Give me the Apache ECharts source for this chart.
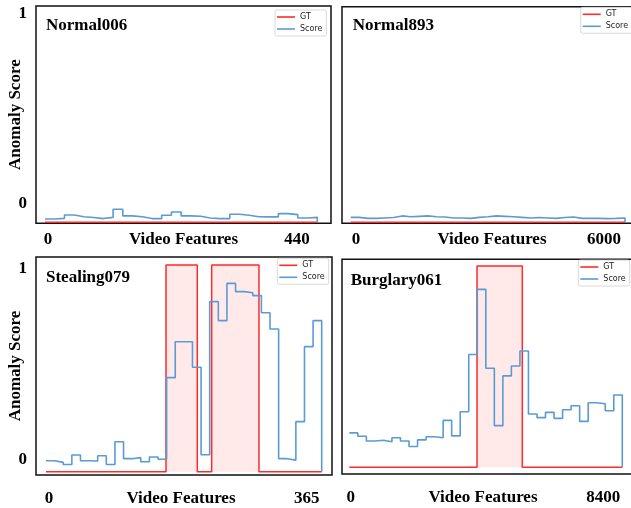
<!DOCTYPE html>
<html>
<head>
<meta charset="utf-8">
<script src="https://cdn.jsdelivr.net/npm/echarts@6/dist/echarts.min.js"></script>
<style>
html,body{margin:0;padding:0;background:#fff;}
#c{width:631px;height:508px;}
</style>
</head>
<body>
<div id="c"></div>
<script>
// ---------------- data ----------------
const titles = ['Normal006', 'Normal893', 'Stealing079', 'Burglary061'];
const seriesNames = ['GT', 'Score'];
const yTicks = [0, 1];

const normal006Ticks = [0, 440];
const normal893Ticks = [0, 6000];
const stealing079Ticks = [0, 365];
const burglary061Ticks = [0, 8400];

// score per snippet segment
const normal006Score = [0.016,0.019,0.035,0.027,0.023,0.018,0.024,0.063,0.031,0.027,0.018,0.018,0.034,0.050,
  0.031,0.029,0.021,0.018,0.018,0.039,0.034,0.027,0.026,0.026,0.042,0.037,0.021,0.024];
const normal893Score = [0.024,0.019,0.019,0.021,0.023,0.031,0.027,0.029,0.031,0.027,0.026,0.021,0.021,0.019,
  0.024,0.027,0.031,0.029,0.027,0.024,0.021,0.023,0.021,0.019,0.023,0.026,0.019,0.019,0.019,0.018,0.019,0.021];
const stealing079Score = [0.053,0.045,0.035,0.081,0.053,0.052,0.077,0.035,0.145,0.063,0.068,0.048,0.071,0.060,
  0.455,0.629,0.629,0.505,0.082,0.823,0.731,0.911,0.871,0.866,0.852,0.769,0.690,0.063,0.056,0.242,0.605,0.731];
const burglary061Score = [0.171,0.154,0.131,0.134,0.127,0.147,0.131,0.103,0.136,0.152,0.147,0.233,0.156,0.276,
  0.560,0.884,0.492,0.207,0.454,0.503,0.578,0.265,0.247,0.273,0.243,0.286,0.306,0.228,0.321,0.316,0.281,0.359];

// ground-truth anomaly intervals (in segment units)
const normal006GtStart = [], normal006GtEnd = [];
const normal893GtStart = [], normal893GtEnd = [];
const stealing079GtStart = [13.93, 19.23], stealing079GtEnd = [17.56, 24.72];
const burglary061GtStart = [14.97], burglary061GtEnd = [20.28];

// ---------------- layout ----------------
const SERIF = '"Liberation Serif","Times New Roman",serif';
const SANS = '"DejaVu Sans",sans-serif';
const panels = [
  {title:titles[0], score:normal006Score, gs:normal006GtStart, ge:normal006GtEnd, ticks:normal006Ticks,
   grid:{left:36, top:6, width:295, height:217.3}, xd:[-0.926, 29.41], yd:[-0.0048, 1.045],
   xl:[-21.2, 500.1], yl:[-0.104, 1.038], showY:true, leg:{left:275, top:10}, tt:{left:46, top:17.5},
   margin:7.5, namePad:0},
  {title:titles[1], score:normal893Score, gs:normal893GtStart, ge:normal893GtEnd, ticks:normal893Ticks,
   grid:{left:342, top:6.7, width:300, height:216.6}, xd:[-1.015, 33.98], yd:[-0.0048, 1.045],
   xl:[-338.7, 6919], yl:[-0.104, 1.038], showY:false, leg:{left:580.7, top:7.3}, tt:{left:352.7, top:17.5},
   margin:8, namePad:0},
  {title:titles[2], score:stealing079Score, gs:stealing079GtStart, ge:stealing079GtEnd, ticks:stealing079Ticks,
   grid:{left:36, top:257, width:296, height:218}, xd:[-1.161, 33.195], yd:[-0.016, 1.0387],
   xl:[-18.4, 400.8], yl:[-0.078, 1.059], showY:true, leg:{left:277.3, top:258.3}, tt:{left:46, top:269},
   margin:15.5, namePad:6},
  {title:titles[3], score:burglary061Score, gs:burglary061GtStart, ge:burglary061GtEnd, ticks:burglary061Ticks,
   grid:{left:342, top:259.3, width:300, height:214.7}, xd:[-0.856, 34.31], yd:[-0.0333, 1.0333],
   xl:[-289.3, 9687], yl:[-0.078, 1.059], showY:false, leg:{left:578.3, top:260}, tt:{left:350.7, top:272},
   margin:15, namePad:18}
];

function scorePoints(vals){
  const pts = vals.map((v,i)=>[i, v]);
  pts.push([vals.length, 0]);
  return pts;
}
function gtPoints(starts, ends, n){
  const pts = [[0,0]];
  starts.forEach((s,k)=>{ pts.push([s,1]); pts.push([ends[k],0]); });
  pts.push([n,0]);
  return pts;
}

const grid=[], xAxis=[], yAxis=[], series=[], legend=[], title=[];
panels.forEach((p,g)=>{
  grid.push(Object.assign({show:true, borderColor:'#111', borderWidth:1.5, backgroundColor:'#fff',
    outerBoundsMode:'none', containLabel:false}, p.grid));
  // data axes (hidden)
  xAxis.push({type:'value', gridIndex:g, min:p.xd[0], max:p.xd[1], show:false});
  yAxis.push({type:'value', gridIndex:g, min:p.yd[0], max:p.yd[1], show:false});
  // label axes
  xAxis.push({type:'value', gridIndex:g, position:'bottom', min:p.xl[0], max:p.xl[1],
    axisLine:{show:false}, axisTick:{show:false}, splitLine:{show:false},
    axisLabel:{customValues:p.ticks, margin:p.margin, fontFamily:SERIF, fontWeight:'bold', fontSize:17, color:'#000',
      formatter:v=>String(v)},
    name:'Video Features', nameLocation:'middle', nameGap:p.margin, nameMoveOverlap:false,
    nameTextStyle:{fontFamily:SERIF, fontWeight:'bold', fontSize:17, color:'#000', padding:[0,p.namePad,0,0]}});
  yAxis.push({type:'value', gridIndex:g, position:'left', min:p.yl[0], max:p.yl[1],
    axisLine:{show:false}, axisTick:{show:false}, splitLine:{show:false},
    axisLabel:{show:p.showY, customValues:yTicks, margin:9, fontFamily:SERIF, fontWeight:'bold', fontSize:17, color:'#000',
      formatter:v=>String(v)},
    name:p.showY?'Anomaly Score':'', nameLocation:'middle', nameRotate:90, nameGap:12, nameMoveOverlap:false,
    nameTextStyle:{fontFamily:SERIF, fontWeight:'bold', fontSize:17, color:'#000'}});
  series.push({name:seriesNames[0], type:'line', xAxisIndex:2*g, yAxisIndex:2*g, step:'end',
    data:gtPoints(p.gs, p.ge, p.score.length), symbol:'none', showSymbol:false,
    lineStyle:{color:'#ff2a2a', width:1.5}, itemStyle:{color:'#ff2a2a'},
    areaStyle:{color:'rgba(255,0,0,0.12)'}, z:2});
  series.push({name:seriesNames[1], type:'line', xAxisIndex:2*g, yAxisIndex:2*g, step:'end',
    data:scorePoints(p.score), symbol:'none', showSymbol:false,
    lineStyle:{color:'#5b9bd5', width:1.6}, itemStyle:{color:'#5b9bd5'}, z:3});
  legend.push({data:seriesNames, orient:'vertical', left:p.leg.left, top:p.leg.top, icon:'rect',
    itemWidth:18, itemHeight:1.6, itemGap:4, padding:[3,4,3,2], backgroundColor:'#fff',
    borderColor:'#cfcfcf', borderWidth:0.8, borderRadius:2, selectedMode:false,
    textStyle:{fontFamily:SANS, fontSize:8, color:'#222'}});
  title.push({text:p.title, left:p.tt.left, top:p.tt.top, padding:0,
    textStyle:{fontFamily:SERIF, fontWeight:'bold', fontSize:17, color:'#000'}});
});

const chart = echarts.init(document.getElementById('c'), null, {renderer:'canvas'});
chart.setOption({animation:false, backgroundColor:'#fff', grid, xAxis, yAxis, series, legend, title});
</script>
</body>
</html>
